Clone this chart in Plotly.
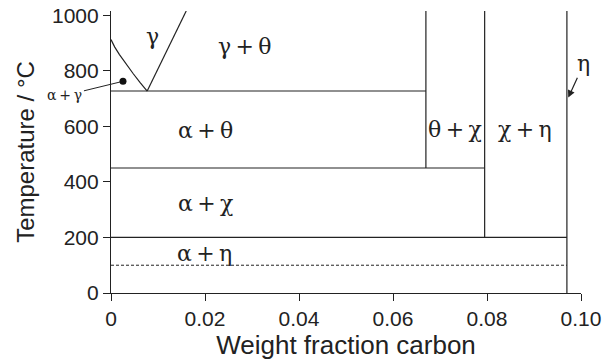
import plotly.graph_objects as go

# ---- data (weight fraction carbon, temperature °C) ----
gamma_C = [0.0, 0.0008, 0.0018, 0.0030, 0.0047, 0.0062, 0.0077]
gamma_T = [912, 885, 858, 828, 790, 757, 727]
acm_C = [0.0077, 0.0160]
acm_T = [727, 1015]
eutectoid_C = [0.0, 0.067]
eutectoid_T = [727, 727]
theta_C = [0.067, 0.067]
theta_T = [450, 1015]
iso450_C = [0.0, 0.0795]
iso450_T = [450, 450]
chi_C = [0.0795, 0.0795]
chi_T = [200, 1015]
iso200_C = [0.0, 0.097]
iso200_T = [200, 200]
eta_C = [0.097, 0.097]
eta_T = [0, 1015]
dashed_C = [0.0, 0.097]
dashed_T = [100, 100]
dot_C = [0.00255]
dot_T = [762]

region_labels = ["γ", "γ\u2009+\u2009θ", "α\u2009+\u2009θ", "θ\u2009+\u2009χ",
                 "χ\u2009+\u2009η", "α\u2009+\u2009χ", "α\u2009+\u2009η"]
region_C = [0.0088, 0.0285, 0.020, 0.0732, 0.088, 0.020, 0.0198]
region_T = [925, 888, 585, 590, 590, 321, 141]

x_tickvals = [0, 0.02, 0.04, 0.06, 0.08, 0.10]
x_ticktext = ["0", "0.02", "0.04", "0.06", "0.08", "0.10"]
y_tickvals = [0, 200, 400, 600, 800, 1000]
y_ticktext = ["0", "200", "400", "600", "800", "1000"]

LINE = "#222222"
SERIF = "DejaVu Serif"
SANS = "Liberation Sans"

fig = go.Figure()

def add_line(xs, ys, dash="solid", width=1.2):
    fig.add_trace(go.Scatter(x=xs, y=ys, mode="lines",
                             line=dict(color=LINE, width=width, dash=dash),
                             hoverinfo="skip", showlegend=False))

add_line(gamma_C, gamma_T)
add_line(acm_C, acm_T)
add_line(eutectoid_C, eutectoid_T)
add_line(theta_C, theta_T)
add_line(iso450_C, iso450_T)
add_line(chi_C, chi_T)
add_line(iso200_C, iso200_T)
add_line(eta_C, eta_T)
add_line(dashed_C, dashed_T, dash="3px,2px", width=1)

fig.add_trace(go.Scatter(x=dot_C, y=dot_T, mode="markers",
                         marker=dict(color="#111111", size=7),
                         hoverinfo="skip", showlegend=False))

for lab, c, t in zip(region_labels, region_C, region_T):
    fig.add_annotation(x=c, y=t, text=lab, showarrow=False,
                       font=dict(family=SERIF, size=22, color="#222222"))

# α+γ callout
fig.add_annotation(x=dot_C[0], y=dot_T[0], text="α\u2009+\u2009γ", showarrow=True,
                   axref="x", ayref="y", ax=-0.0098, ay=711,
                   arrowhead=0, arrowwidth=1, arrowcolor=LINE, standoff=3,
                   font=dict(family=SERIF, size=14, color="#222222"))

# η callout
fig.add_annotation(x=0.0972, y=700, text="η", showarrow=True,
                   axref="x", ayref="y", ax=0.1006, ay=825,
                   arrowhead=2, arrowsize=1.2, arrowwidth=1.2, arrowcolor=LINE,
                   standoff=1,
                   font=dict(family=SERIF, size=22, color="#222222"))

fig.update_layout(
    width=603, height=363,
    margin=dict(l=111, r=22, t=11, b=70, autoexpand=False),
    paper_bgcolor="white", plot_bgcolor="white",
    font=dict(family=SANS, color="#222222"),
)
fig.update_xaxes(range=[0, 0.1], tickvals=x_tickvals, ticktext=x_ticktext,
                 automargin=False,
                 showgrid=False, zeroline=False, showline=True, linecolor=LINE,
                 linewidth=1.2, ticks="outside", ticklen=7, tickcolor=LINE,
                 tickfont=dict(size=21, family=SANS),
                 title=dict(text="Weight fraction carbon", font=dict(size=26, family=SANS), standoff=5))
fig.update_yaxes(range=[0, 1015], tickvals=y_tickvals, ticktext=y_ticktext,
                 automargin=False,
                 showgrid=False, zeroline=False, showline=True, linecolor=LINE,
                 linewidth=1.2, ticks="outside", ticklen=7, tickcolor=LINE,
                 tickfont=dict(size=21, family=SANS),
                 title=dict(text="Temperature / °C", font=dict(size=24, family=SANS), standoff=10))

fig.write_html("out.html")
